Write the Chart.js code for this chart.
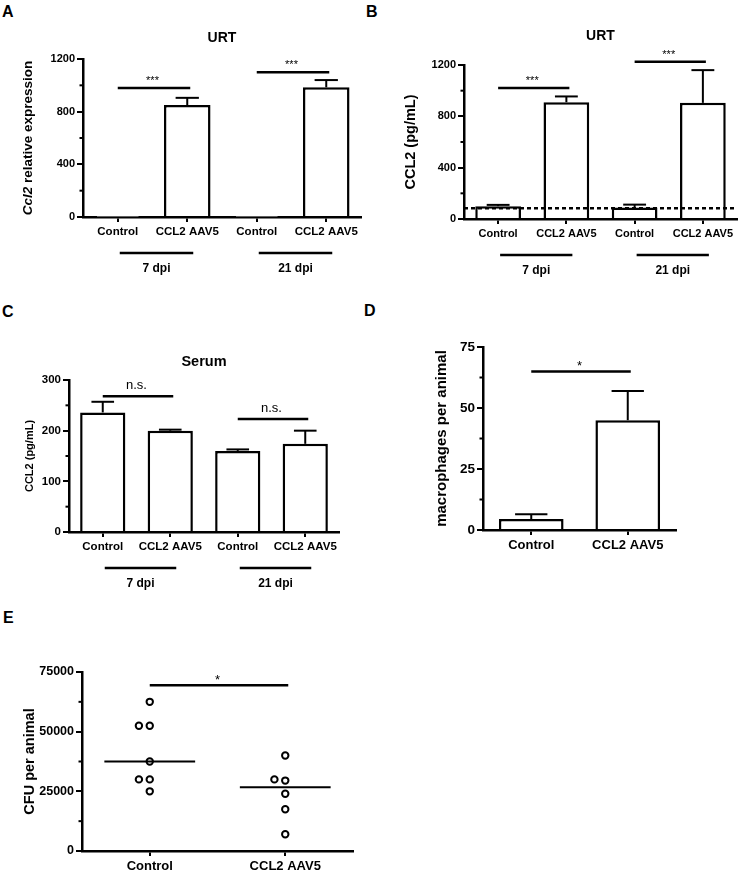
<!DOCTYPE html>
<html>
<head>
<meta charset="utf-8">
<script src="https://cdn.jsdelivr.net/npm/chart.js@4.4.1/dist/chart.umd.min.js"></script>
<style>
  body { margin: 0; background: #fff; width: 738px; height: 872px; position: relative; overflow: hidden;
         font-family: 'Liberation Sans', Arial, sans-serif; }
  canvas { position: absolute; }
  .letter { position: absolute; font-weight: bold; font-size: 16px; line-height: 16px; }
</style>
</head>
<body>
<div class="letter" style="left:2px;top:4px">A</div>
<div class="letter" style="left:366px;top:4px">B</div>
<div class="letter" style="left:2px;top:304px">C</div>
<div class="letter" style="left:364px;top:303px">D</div>
<div class="letter" style="left:3px;top:610px">E</div>

<canvas id="chartA" width="370" height="300" style="left:0;top:0"></canvas>
<canvas id="chartB" width="368" height="300" style="left:370px;top:0"></canvas>
<canvas id="chartC" width="370" height="300" style="left:0;top:300px"></canvas>
<canvas id="chartD" width="368" height="300" style="left:370px;top:300px"></canvas>
<canvas id="chartE" width="370" height="272" style="left:0;top:600px"></canvas>

<script>
const FONT = "'Liberation Sans', Arial, sans-serif";
Chart.defaults.font.family = FONT;
Chart.defaults.color = '#000';
Chart.defaults.animation = false;

// categories
const groupLabels = ['Control', 'CCL2 AAV5', 'Control', 'CCL2 AAV5'];
const timeLabels = ['7 dpi', '21 dpi'];
const pairLabels = ['Control', 'CCL2 AAV5'];

// A - URT Ccl2 relative expression
const urtExprMean = [1, 850, 1, 985];
const urtExprSem = [0, 55, 0, 55];
const urtExprSig = [{ a: 0, b: 1, y: 980, text: '***' }, { a: 2, b: 3, y: 1100, text: '***' }];

// B - URT CCL2 protein (pg/mL)
const urtProtMean = [100, 910, 90, 905];
const urtProtSem = [10, 45, 22, 255];
const urtProtLimit = 83;
const urtProtSig = [{ a: 0, b: 1, y: 1020, text: '***' }, { a: 2, b: 3, y: 1225, text: '***' }];

// C - serum CCL2 (pg/mL)
const serumMean = [236, 200, 160, 174];
const serumSem = [21, 2, 3, 26];
const serumSig = [{ a: 0, b: 1, y: 268, text: 'n.s.' }, { a: 2, b: 3, y: 223, text: 'n.s.' }];

// D - macrophages per animal
const macroMean = [4.5, 45];
const macroSem = [2, 12];
const macroSig = [{ a: 0, b: 1, y: 65, text: '*' }];

// E - CFU per animal
const cfuControl = [62500, 52500, 52500, 37500, 30000, 30000, 25000];
const cfuCcl2 = [40000, 30000, 29500, 24000, 17500, 7000];
const cfuSig = [{ a: 0, b: 1, y: 69500, text: '*' }];

function median(arr) {
    const s = arr.slice().sort((p, q) => p - q);
    const m = Math.floor(s.length / 2);
    return s.length % 2 ? s[m] : (s[m - 1] + s[m]) / 2;
}

// near-equal values are nudged to the left, like a column scatter
function column(values, center) {
    return values.map((v, i) => ({
        x: center - (values.some((w, j) => j > i && Math.abs(w - v) < 3000) ? 0.08 : 0),
        y: v
    }));
}

function seg(ctx, x1, y1, x2, y2) {
    ctx.beginPath();
    ctx.moveTo(x1, y1);
    ctx.lineTo(x2, y2);
    ctx.stroke();
}

// titles, error bars, significance bars, group lines
function decorate(cfg) {
    return {
        id: 'decorate',
        afterDraw(chart) {
            const ctx = chart.ctx, area = chart.chartArea;
            const x = chart.scales.x, y = chart.scales.y;
            ctx.save();
            ctx.strokeStyle = '#000';
            ctx.fillStyle = '#000';

            // minor ticks
            ctx.lineWidth = 2;
            for (let v = cfg.minor; v < y.max; v += cfg.minor * 2) {
                const py = y.getPixelForValue(v);
                seg(ctx, area.left - 3.5, py, area.left, py);
            }

            // error bars (upper only)
            if (cfg.sem) {
                const bars = chart.getDatasetMeta(0).data;
                ctx.lineWidth = 2;
                bars.forEach((bar, i) => {
                    if (!cfg.sem[i]) return;
                    const top = y.getPixelForValue(cfg.mean[i] + cfg.sem[i]);
                    const half = bar.width / 4;
                    seg(ctx, bar.x, bar.y, bar.x, top);
                    seg(ctx, bar.x - half, top, bar.x + half, top);
                });
            }

            // detection limit
            if (cfg.limit) {
                const py = y.getPixelForValue(cfg.limit);
                ctx.lineWidth = 2.5;
                ctx.setLineDash([4, 3]);
                seg(ctx, area.left, py, area.right, py);
                ctx.setLineDash([]);
            }

            // significance bars
            (cfg.sig || []).forEach(s => {
                const py = y.getPixelForValue(s.y);
                const x1 = x.getPixelForValue(s.a), x2 = x.getPixelForValue(s.b);
                ctx.lineWidth = 2.5;
                seg(ctx, x1, py, x2 + 3, py);
                ctx.font = cfg.sigFont;
                ctx.textAlign = 'center';
                ctx.textBaseline = 'alphabetic';
                ctx.fillText(s.text, (x1 + x2) / 2, py - cfg.sigLift);
            });

            // time point groups under the axis
            if (cfg.groups) {
                cfg.groups.forEach((g, i) => {
                    const x1 = x.getPixelForValue(i * 2) + 2, x2 = x.getPixelForValue(i * 2 + 1) + 6;
                    ctx.lineWidth = 2.5;
                    seg(ctx, x1, area.bottom + 36, x2, area.bottom + 36);
                    ctx.font = 'bold 12px ' + FONT;
                    ctx.textAlign = 'center';
                    ctx.textBaseline = 'middle';
                    ctx.fillText(g, (x1 + x2) / 2, area.bottom + 52);
                });
            }

            // chart title
            if (cfg.title) {
                ctx.font = 'bold ' + cfg.titleSize + 'px ' + FONT;
                ctx.textAlign = 'center';
                ctx.textBaseline = 'middle';
                ctx.fillText(cfg.title, (area.left + area.right) / 2, area.top - cfg.titleGap);
            }

            // y axis title, may hold an italic part
            ctx.translate(area.left - cfg.yTitleOffset, (area.top + area.bottom) / 2);
            ctx.rotate(-Math.PI / 2);
            ctx.textBaseline = 'middle';
            ctx.textAlign = 'left';
            const fonts = cfg.yTitle.map(p => (p.italic ? 'italic ' : '') + 'bold ' + cfg.yTitleSize + 'px ' + FONT);
            let total = 0;
            cfg.yTitle.forEach((p, i) => { ctx.font = fonts[i]; total += ctx.measureText(p.text).width; });
            let px = -total / 2;
            cfg.yTitle.forEach((p, i) => {
                ctx.font = fonts[i];
                ctx.fillText(p.text, px, 0);
                px += ctx.measureText(p.text).width;
            });
            ctx.restore();
        }
    };
}

function yAxis(max, step, size, width) {
    return {
        min: 0,
        max: max,
        ticks: { stepSize: step, font: { size: size, weight: 'bold' }, padding: 2, callback: v => v },
        grid: { drawOnChartArea: false, color: '#000', lineWidth: 2, tickLength: 6 },
        border: { color: '#000', width: 2.5 },
        afterFit: s => { s.width = width; }
    };
}

function xAxis(size, height) {
    return {
        ticks: { font: { size: size, weight: 'bold' }, padding: 3, autoSkip: false, maxRotation: 0 },
        grid: { drawOnChartArea: false, offset: false, color: '#000', lineWidth: 2, tickLength: 5 },
        border: { color: '#000', width: 2.5 },
        afterFit: s => { s.height = height; }
    };
}

function barPanel(id, labels, means, area, axes, cfg) {
    const canvas = document.getElementById(id);
    return new Chart(canvas, {
        type: 'bar',
        data: {
            labels: labels,
            datasets: [{
                data: means,
                backgroundColor: '#fff',
                borderColor: '#000',
                borderWidth: 2.5,
                borderSkipped: 'bottom',
                barPercentage: 0.67,
                categoryPercentage: 1
            }]
        },
        options: {
            responsive: false,
            layout: { padding: { top: area.top, right: canvas.width - area.right, left: 0, bottom: 0 } },
            plugins: { legend: { display: false }, tooltip: { enabled: false } },
            scales: {
                x: xAxis(axes.xSize, canvas.height - area.bottom),
                y: yAxis(axes.max, axes.step, axes.ySize, area.left)
            }
        },
        plugins: [decorate(cfg)]
    });
}

barPanel('chartA', groupLabels, urtExprMean,
    { left: 83, top: 59, right: 361, bottom: 217 },
    { max: 1200, step: 400, xSize: 11.5, ySize: 11 },
    { title: 'URT', titleSize: 14, titleGap: 21, minor: 200,
      mean: urtExprMean, sem: urtExprSem, sig: urtExprSig, sigFont: '11px ' + FONT, sigLift: 4,
      groups: timeLabels,
      yTitle: [{ text: 'Ccl2', italic: true }, { text: ' relative expression' }], yTitleSize: 13.5, yTitleOffset: 55 });

barPanel('chartB', groupLabels, urtProtMean,
    { left: 94, top: 65, right: 367, bottom: 219 },
    { max: 1200, step: 400, xSize: 11, ySize: 11 },
    { title: 'URT', titleSize: 14, titleGap: 29, minor: 200,
      mean: urtProtMean, sem: urtProtSem, limit: urtProtLimit, sig: urtProtSig, sigFont: '11px ' + FONT, sigLift: 4,
      groups: timeLabels,
      yTitle: [{ text: 'CCL2 (pg/mL)' }], yTitleSize: 14.5, yTitleOffset: 53 });

barPanel('chartC', groupLabels, serumMean,
    { left: 69, top: 80, right: 339, bottom: 232 },
    { max: 300, step: 100, xSize: 11.5, ySize: 11.5 },
    { title: 'Serum', titleSize: 14.5, titleGap: 18, minor: 50,
      mean: serumMean, sem: serumSem, sig: serumSig, sigFont: '13px ' + FONT, sigLift: 7,
      groups: timeLabels,
      yTitle: [{ text: 'CCL2 (pg/mL)' }], yTitleSize: 11, yTitleOffset: 39 });

barPanel('chartD', pairLabels, macroMean,
    { left: 113, top: 47, right: 306, bottom: 230 },
    { max: 75, step: 25, xSize: 13, ySize: 13.5 },
    { minor: 12.5,
      mean: macroMean, sem: macroSem, sig: macroSig, sigFont: '13px ' + FONT, sigLift: 1,
      yTitle: [{ text: 'macrophages per animal' }], yTitleSize: 15, yTitleOffset: 41 });

// E - column scatter with medians
(function () {
    const canvas = document.getElementById('chartE');
    const area = { left: 82, top: 72, right: 353, bottom: 251 };
    const pointStyle = {
        showLine: false, pointRadius: 3.2, pointBorderWidth: 2,
        pointBackgroundColor: '#fff', pointBorderColor: '#000'
    };
    const medianLine = (values, center) => ({
        data: [{ x: center - 0.335, y: median(values) }, { x: center + 0.335, y: median(values) }],
        showLine: true, borderColor: '#000', borderWidth: 2, pointRadius: 0
    });
    const xScale = xAxis(13, canvas.height - area.bottom);
    Object.assign(xScale, {
        type: 'linear', min: -0.5, max: 1.5,
        afterBuildTicks: s => { s.ticks = pairLabels.map((_, i) => ({ value: i })); }
    });
    xScale.ticks.callback = v => pairLabels[v];

    new Chart(canvas, {
        type: 'scatter',
        data: {
            datasets: [
                medianLine(cfuControl, 0),
                medianLine(cfuCcl2, 1),
                Object.assign({ data: column(cfuControl, 0) }, pointStyle),
                Object.assign({ data: column(cfuCcl2, 1) }, pointStyle)
            ]
        },
        options: {
            responsive: false,
            layout: { padding: { top: area.top, right: canvas.width - area.right, left: 0, bottom: 0 } },
            plugins: { legend: { display: false }, tooltip: { enabled: false } },
            scales: {
                x: xScale,
                y: yAxis(75000, 25000, 12.5, area.left)
            }
        },
        plugins: [decorate({
            minor: 12500, sig: cfuSig, sigFont: '13px ' + FONT, sigLift: 1,
            yTitle: [{ text: 'CFU per animal' }], yTitleSize: 14.5, yTitleOffset: 52
        })]
    });
})();
</script>
</body>
</html>
